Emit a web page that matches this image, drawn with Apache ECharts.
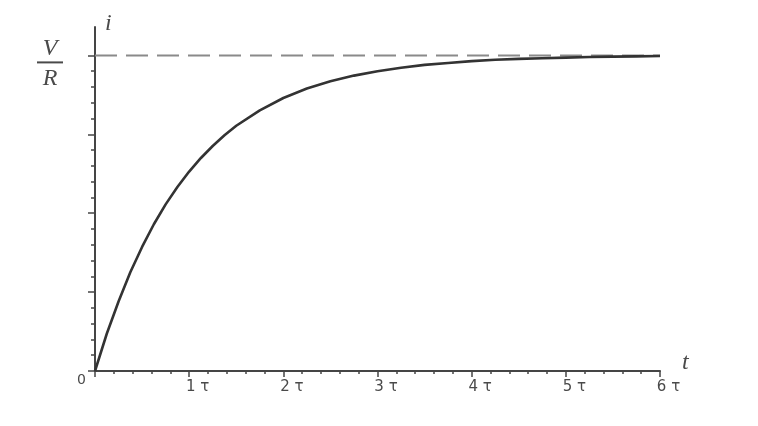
<!DOCTYPE html>
<html>
<head>
<meta charset="utf-8">
<script src="https://cdn.jsdelivr.net/npm/echarts@6/dist/echarts.min.js"></script>
<style>html,body{margin:0;padding:0;background:#fff;}#c{width:758px;height:426px;}</style>
</head>
<body>
<div id="c"></div>
<script>
// Data (t in units of tau, i in units of V/R)
const tValues = [0, 0.125, 0.25, 0.375, 0.5, 0.625, 0.75, 0.875, 1, 1.125, 1.25, 1.375, 1.5, 1.75, 2, 2.25, 2.5, 2.75, 3, 3.25, 3.5, 3.75, 4, 4.25, 4.5, 4.75, 5, 5.25, 5.5, 5.75, 6];
const iValues = [0, 0.118, 0.22, 0.313, 0.393, 0.465, 0.528, 0.583, 0.632, 0.675, 0.713, 0.747, 0.777, 0.826, 0.865, 0.895, 0.918, 0.936, 0.95, 0.961, 0.97, 0.976, 0.982, 0.986, 0.989, 0.991, 0.993, 0.995, 0.996, 0.997, 0.998];
const asymptoteT = [0, 6];
const asymptoteI = [1, 1];
const xTickLabels = ['', '1 τ', '2 τ', '3 τ', '4 τ', '5 τ', '6 τ'];
const yMajorTicks = [0, 0.25, 0.5, 0.75, 1];
const yMinorTicks = [0.05, 0.1, 0.15, 0.2, 0.3, 0.35, 0.4, 0.45, 0.55, 0.6, 0.65, 0.7, 0.8, 0.85, 0.9, 0.95];

const axisColor = '#454545';
const textColor = '#4a4a4a';
const serif = '"Liberation Serif", "DejaVu Serif", serif';

const chart = echarts.init(document.getElementById('c'), null, {renderer: 'canvas'});
chart.setOption({
  animation: false,
  backgroundColor: '#fff',
  grid: {left: 95, right: 98, top: 27, bottom: 55, containLabel: false},
  xAxis: {
    type: 'value', min: 0, max: 6, interval: 1,
    name: 't', nameLocation: 'end', nameGap: 22,
    nameTextStyle: {fontFamily: serif, fontStyle: 'italic', fontSize: 24, lineHeight: 16, color: textColor, verticalAlign: 'bottom'},
    axisLine: {show: true, onZero: false, lineStyle: {color: axisColor, width: 2}},
    axisTick: {show: true, inside: false, length: 6, lineStyle: {color: axisColor, width: 1.5}},
    minorTick: {show: true, splitNumber: 5, length: 3, lineStyle: {color: axisColor, width: 1.5}},
    splitLine: {show: false},
    minorSplitLine: {show: false},
    axisLabel: {
      margin: 9,
      formatter: v => '{a|' + xTickLabels[Math.round(v)] + '}',
      rich: {a: {fontFamily: '"DejaVu Sans", sans-serif', fontSize: 15, color: textColor, padding: [0, 0, 0, 17]}}
    }
  },
  yAxis: [{
    type: 'value', min: 0, max: 1.09,
    name: 'i', nameLocation: 'end', nameGap: 3,
    nameTextStyle: {fontFamily: serif, fontStyle: 'italic', fontSize: 24, color: textColor, align: 'left', verticalAlign: 'middle', padding: [0, 0, 0, 10]},
    axisLine: {show: true, onZero: false, lineStyle: {color: axisColor, width: 2}},
    axisTick: {show: true, length: 7, customValues: yMajorTicks, lineStyle: {color: axisColor, width: 1.5}},
    splitLine: {show: false},
    axisLabel: {
      customValues: [0], margin: 9,
      formatter: () => '{z|0}',
      rich: {z: {fontFamily: '"DejaVu Sans", sans-serif', fontSize: 14, color: textColor, padding: [18, 0, 0, 0]}}
    }
  }, {
    type: 'value', min: 0, max: 1.09, position: 'left', offset: 0,
    axisLine: {show: false, onZero: false},
    axisTick: {show: true, length: 4, customValues: yMinorTicks, lineStyle: {color: axisColor, width: 1.5}},
    splitLine: {show: false},
    axisLabel: {
      customValues: [1], margin: 32, padding: [18, 0, 0, 0],
      formatter: () => '{v|V}\n{bar|}\n{r|R}',
      rich: {
        v: {fontFamily: serif, fontStyle: 'italic', fontSize: 24, color: textColor, width: 26, align: 'center', lineHeight: 24},
        bar: {width: 26, height: 2, lineHeight: 4, backgroundColor: textColor},
        r: {fontFamily: serif, fontStyle: 'italic', fontSize: 24, color: textColor, width: 26, align: 'center', lineHeight: 28}
      }
    }
  }],
  series: [{
    type: 'line',
    data: asymptoteT.map((t, k) => [t, asymptoteI[k]]),
    showSymbol: false, silent: true,
    lineStyle: {color: '#8a8a8a', width: 2, type: [22, 9]},
    z: 1
  }, {
    type: 'line',
    data: tValues.map((t, k) => [t, iValues[k]]),
    showSymbol: false, smooth: false, silent: true,
    lineStyle: {color: '#333', width: 2.6, join: 'round'},
    z: 2
  }]
});
</script>
</body>
</html>
